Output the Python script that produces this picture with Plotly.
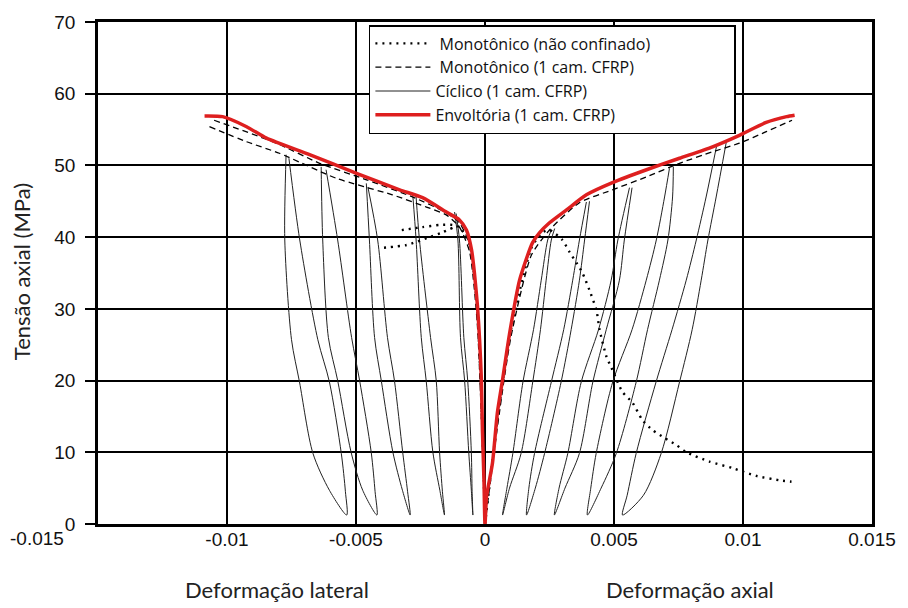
import plotly.graph_objects as go

# ---------------- data ----------------
# Envelope (red) : lateral branch (left, from its end to origin) and axial branch (right)
env_lat_x = [-0.01087, -0.01017, -0.00924, -0.00847, -0.0068, -0.00498, -0.00331, -0.00242,
             -0.0015, -0.00099, -0.00072, -0.00052, -0.00041, -0.00029, -0.00021, -0.00014,
             -0.0001, -0.00004, 0.0]
env_lat_y = [56.9, 56.8, 55.4, 53.8, 51.5, 48.9, 46.6, 45.5, 43.5, 42.4, 41.0, 38.2, 35.0,
             30.3, 25.7, 20.1, 13.1, 6.1, 0.0]
env_ax_x = [0.00006, 0.00029, 0.00048, 0.00068, 0.00095, 0.00134, 0.00184, 0.00211, 0.0025,
            0.00316, 0.00393, 0.00494, 0.00626, 0.00754, 0.00882, 0.00986, 0.0109, 0.01169, 0.0120]
env_ax_y = [3.8, 8.5, 15.5, 20.1, 26.5, 34.0, 39.2, 40.6, 42.0, 43.8, 45.9, 47.6, 49.4, 51.0,
            52.6, 54.2, 56.0, 56.8, 57.0]

# Monotonic, 1 layer CFRP (dashed): two lateral gauges and the axial curve
mono_lat1_x = [-0.0105, -0.00808, -0.00641, -0.00459, -0.00281, -0.0015, -0.00099, -0.0006, -0.0003, 0.0]
mono_lat1_y = [56.3, 53.1, 50.3, 48.0, 45.6, 43.4, 42.0, 39.0, 30.0, 0.0]
mono_lat2_x = [-0.01068, -0.00924, -0.00797, -0.00576, -0.00359, -0.00227, -0.0015, -0.00099, -0.0006, -0.0003, 0.0]
mono_lat2_y = [55.4, 53.3, 51.7, 48.2, 45.9, 44.2, 43.1, 41.4, 38.0, 28.0, 0.0]
mono_ax_x = [0.0, 0.0005, 0.001, 0.0018, 0.0025, 0.00366, 0.00494, 0.00626, 0.00754, 0.00882, 0.00986, 0.0109, 0.0119]
mono_ax_y = [0.0, 14.0, 26.0, 37.5, 41.0, 44.8, 46.6, 48.4, 50.3, 51.9, 53.1, 54.7, 56.3]

# Monotonic, unconfined (dotted)
unc_ax_x = [0.0, 0.0005, 0.001, 0.0018, 0.0022, 0.0025, 0.003, 0.00328, 0.00355, 0.00378, 0.00405,
            0.00432, 0.00444, 0.00471, 0.0049, 0.0051, 0.00533, 0.00572, 0.0061, 0.00649, 0.00696,
            0.00742, 0.00781, 0.0087, 0.00959, 0.01052, 0.01141, 0.01188]
unc_ax_y = [0.0, 15.0, 27.0, 38.5, 40.6, 41.0, 39.6, 37.9, 36.4, 35.0, 32.6, 29.8, 27.1, 23.3, 21.8,
            20.1, 18.4, 16.9, 14.5, 13.1, 12.0, 11.0, 10.0, 8.7, 7.8, 6.7, 6.1, 5.9]
unc_lat1_x = [0.0, -0.0001, -0.0003, -0.0006, -0.00099, -0.00126, -0.00176, -0.00242, -0.00339]
unc_lat1_y = [0.0, 13.0, 30.0, 39.0, 41.4, 41.7, 41.7, 41.4, 40.9]
unc_lat2_x = [-0.00126, -0.00169, -0.00215, -0.00304, -0.00401]
unc_lat2_y = [41.3, 40.6, 40.0, 38.9, 38.5]

# Cyclic, 1 layer CFRP (thin solid): unloading / reloading loops
lat_loop1_x = [-0.00771, -0.00776, -0.0075, -0.00719, -0.00667, -0.00603, -0.00536, -0.00541, -0.00557, -0.00603, -0.00648, -0.00718, -0.0076]
lat_loop1_y = [51.5, 39.6, 25.7, 19.8, 9.86, 4.7, 1.25, 4.5, 9.86, 19.8, 25.7, 39.6, 51.0]
lat_loop2_x = [-0.00635, -0.00629, -0.00607, -0.00571, -0.00519, -0.00474, -0.00419, -0.00426, -0.00441, -0.00486, -0.00517, -0.00571, -0.00616]
lat_loop2_y = [49.8, 39.6, 26.0, 20.0, 10.0, 4.7, 1.25, 4.5, 10.0, 20.0, 26.0, 39.6, 49.4]
lat_loop3_x = [-0.0046, -0.00448, -0.00428, -0.00402, -0.00357, -0.0032, -0.0029, -0.003, -0.00319, -0.00351, -0.00378, -0.00416, -0.00454]
lat_loop3_y = [47.5, 39.6, 26.0, 20.0, 10.0, 4.7, 1.25, 4.5, 10.0, 20.0, 26.0, 39.6, 47.0]
lat_loop4_x = [-0.0028, -0.00267, -0.00247, -0.00228, -0.00202, -0.00175, -0.00157, -0.00165, -0.00176, -0.00189, -0.00211, -0.00254, -0.00267]
lat_loop4_y = [45.9, 39.6, 26.0, 20.0, 10.0, 4.7, 1.25, 4.5, 10.0, 20.0, 26.0, 39.6, 45.6]
lat_loop5_x = [-0.00118, -0.00105, -0.00095, -0.00079, -0.00063, -0.00053, -0.00047, -0.0005, -0.00053, -0.00067, -0.00082, -0.00099, -0.00112]
lat_loop5_y = [43.5, 39.6, 26.0, 20.0, 10.0, 4.7, 1.25, 4.5, 10.0, 20.0, 26.0, 39.6, 43.3]

ax_loop1_x = [0.00257, 0.00243, 0.00218, 0.00188, 0.00147, 0.00108, 0.00085, 0.00068, 0.00095, 0.0014, 0.00185, 0.00215, 0.00237, 0.00257, 0.0027]
ax_loop1_y = [41.0, 39.6, 34.0, 27.1, 19.8, 9.86, 5.0, 1.25, 5.0, 9.86, 19.8, 27.1, 34.0, 39.6, 41.2]
ax_loop2_x = [0.00393, 0.00366, 0.0034, 0.00305, 0.00257, 0.00192, 0.0017, 0.00161, 0.00195, 0.00231, 0.00295, 0.00334, 0.00366, 0.00386, 0.00405]
ax_loop2_y = [44.9, 39.6, 34.0, 27.1, 19.8, 9.86, 5.0, 1.25, 5.0, 9.86, 19.8, 27.1, 34.0, 39.6, 45.0]
ax_loop3_x = [0.0056, 0.00515, 0.00489, 0.0044, 0.00373, 0.00321, 0.00287, 0.00269, 0.0031, 0.00366, 0.00418, 0.0047, 0.00521, 0.0054, 0.0057]
ax_loop3_y = [46.9, 39.6, 34.0, 27.1, 19.8, 9.86, 5.0, 1.25, 5.0, 9.86, 19.8, 27.1, 34.0, 39.6, 46.9]
ax_loop4_x = [0.00715, 0.00696, 0.00664, 0.00625, 0.0057, 0.00495, 0.00431, 0.0041, 0.00397, 0.0045, 0.00509, 0.00586, 0.0063, 0.00676, 0.00709, 0.00727, 0.0073]
ax_loop4_y = [49.6, 45.6, 39.6, 34.0, 27.1, 19.8, 9.86, 5.0, 1.25, 5.0, 9.86, 19.8, 27.1, 34.0, 39.6, 45.6, 49.8]
ax_loop5_x = [0.00897, 0.00857, 0.00819, 0.0078, 0.00725, 0.00663, 0.00586, 0.00551, 0.00533, 0.00614, 0.00683, 0.00754, 0.00803, 0.00838, 0.00864, 0.00896, 0.00935]
ax_loop5_y = [52.6, 45.6, 39.6, 34.0, 27.1, 19.8, 9.86, 4.0, 1.25, 4.0, 9.86, 19.8, 27.1, 34.0, 39.6, 45.6, 53.2]

# Axis ticks
x_tick_vals = [-0.015, -0.01, -0.005, 0, 0.005, 0.01, 0.015]
x_tick_text = ["-0.015", "-0.01", "-0.005", "0", "0.005", "0.01", "0.015"]
y_tick_vals = [0, 10, 20, 30, 40, 50, 60, 70]

# Legend labels
NB = "\u00a0"
PAD = NB * 18 + '<span style="color:rgba(0,0,0,0)">.</span>'
lbl_unc = NB + "Monotônico (não confinado)" + PAD
lbl_mono = NB + "Monotônico (1 cam. CFRP)"
lbl_cyc = "Cíclico (1 cam. CFRP)"
lbl_env = "Envoltória (1 cam. CFRP)"


def join(*pairs):
    xs, ys = [], []
    for i, (px, py) in enumerate(pairs):
        if i:
            xs.append(None)
            ys.append(None)
        xs += list(px)
        ys += list(py)
    return xs, ys


fig = go.Figure()

cx, cy = join((lat_loop1_x, lat_loop1_y), (lat_loop2_x, lat_loop2_y), (lat_loop3_x, lat_loop3_y),
              (lat_loop4_x, lat_loop4_y), (lat_loop5_x, lat_loop5_y),
              (ax_loop1_x, ax_loop1_y), (ax_loop2_x, ax_loop2_y), (ax_loop3_x, ax_loop3_y),
              (ax_loop4_x, ax_loop4_y), (ax_loop5_x, ax_loop5_y))
fig.add_trace(go.Scatter(x=cx, y=cy, mode="lines", name=lbl_cyc, legendrank=3,
                         line=dict(color="#222222", width=1, shape="spline", smoothing=0.8)))

ux, uy = join((unc_ax_x, unc_ax_y), (unc_lat1_x, unc_lat1_y), (unc_lat2_x, unc_lat2_y))
fig.add_trace(go.Scatter(x=ux, y=uy, mode="lines", name=lbl_unc, legendrank=1,
                         line=dict(color="black", width=2.4, dash="2px,5px", shape="spline", smoothing=0.6)))

mx, my = join((mono_lat1_x, mono_lat1_y), (mono_lat2_x, mono_lat2_y), (mono_ax_x, mono_ax_y))
fig.add_trace(go.Scatter(x=mx, y=my, mode="lines", name=lbl_mono, legendrank=2,
                         line=dict(color="black", width=1.3, dash="6px,4px", shape="spline", smoothing=0.6)))

fig.add_trace(go.Scatter(x=env_lat_x + env_ax_x, y=env_lat_y + env_ax_y, mode="lines", name=lbl_env,
                         legendrank=4,
                         line=dict(color="#de1f1f", width=3.5, shape="spline", smoothing=0.6)))

tick_font = dict(family="Liberation Sans, Arial, sans-serif", size=19, color="#111111")
axis_common = dict(showgrid=True, gridcolor="black", gridwidth=1.5, zeroline=False,
                   showline=True, linecolor="black", linewidth=2.5, mirror=True,
                   automargin=False, tickcolor="black", tickwidth=1.5, tickfont=tick_font)

# the first x label sits left of its tick in the reference (drawn as a separate text below)
x_tick_shown = [""] + x_tick_text[1:]
fig.update_xaxes(range=[-0.015, 0.015], tickvals=x_tick_vals, ticktext=x_tick_shown, ticks="",
                 ticklabelstandoff=-4, **axis_common)
fig.update_yaxes(range=[0, 70], tickvals=y_tick_vals, ticks="outside", ticklen=10,
                 ticklabelstandoff=6, **axis_common)

title_font = dict(family="Lato, Carlito, sans-serif", size=22, color="#222222")
fig.update_layout(
    width=900, height=600,
    margin=dict(l=90, r=36, t=14, b=84),
    paper_bgcolor="white", plot_bgcolor="white",
    showlegend=True,
    legend=dict(x=0.35, y=0.994, xanchor="left", yanchor="top",
                bgcolor="white", bordercolor="black", borderwidth=1.5,
                font=dict(family="Open Sans, sans-serif", size=16, color="#111111"),
                itemwidth=55, tracegroupgap=0),
    annotations=[
        dict(text=x_tick_text[0], xref="paper", yref="paper", x=-0.079, y=-0.028,
             xanchor="center", yanchor="middle", showarrow=False, font=tick_font),
        dict(text="Deformação lateral", xref="paper", yref="paper", x=0.231, y=-0.131,
             xanchor="center", yanchor="middle", showarrow=False, font=title_font),
        dict(text="Deformação axial", xref="paper", yref="paper", x=0.765, y=-0.131,
             xanchor="center", yanchor="middle", showarrow=False, font=title_font),
        dict(text="Tensão axial (MPa)", xref="paper", yref="paper", x=-0.098, y=0.502,
             xanchor="center", yanchor="middle", textangle=-90, showarrow=False, font=title_font),
    ],
)

fig.write_html("out.html")
